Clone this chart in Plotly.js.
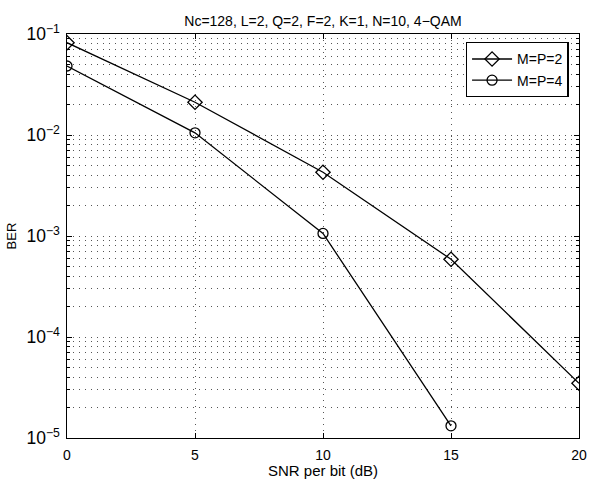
<!DOCTYPE html>
<html>
<head>
<meta charset="utf-8">
<script src="https://cdn.plot.ly/plotly-3.0.1.min.js"></script>
<style>html,body{margin:0;padding:0;background:#fff;}#chart{width:589px;height:479px;}</style>
</head>
<body>
<div id="chart"></div>
<script>
var snrA = [0, 5, 10, 15, 20];
var berA = [0.082, 0.0211, 0.00428, 0.000588, 0.0000348];
var snrB = [0, 5, 10, 15];
var berB = [0.0482, 0.0105, 0.00106, 0.0000132];
var nameA = "M=P=2";
var nameB = "M=P=4";
var xTicks = [0, 5, 10, 15, 20];
var titleText = "Nc=128, L=2, Q=2, F=2, K=1, N=10, 4\u2212QAM";

var font = "Liberation Sans, Arial, Helvetica, sans-serif";
var gridDash = "1px,5px";
var gridColor = "#555";

var traces = [
  {x: snrA, y: berA, name: nameA, type: "scatter", mode: "lines+markers",
   line: {color: "#000", width: 1.3},
   marker: {symbol: "diamond-open", size: 11, color: "#000", line: {width: 1.3, color: "#000"}}},
  {x: snrB, y: berB, name: nameB, type: "scatter", mode: "lines+markers",
   line: {color: "#000", width: 1.3},
   marker: {symbol: "circle-open", size: 10, color: "#000", line: {width: 1.3, color: "#000"}}}
];

var layout = {
  width: 589, height: 479,
  margin: {l: 67, r: 10, t: 34, b: 41, pad: 0},
  paper_bgcolor: "#fff", plot_bgcolor: "#fff",
  font: {family: font, size: 13, color: "#000"},
  title: {text: titleText, font: {family: font, size: 14, color: "#000"},
          x: 0.5, xref: "paper", xanchor: "center", y: 1, yref: "paper", yanchor: "bottom", pad: {b: 8}},
  showlegend: true,
  legend: {x: 0.98, y: 0.98, xanchor: "right", yanchor: "top",
           bgcolor: "#fff", bordercolor: "#000", borderwidth: 1.3,
           font: {family: font, size: 14, color: "#000"}, itemwidth: 40,
           tracegroupgap: 0},
  xaxis: {
    range: [0, 20], tickmode: "array", tickvals: xTicks, ticktext: xTicks.map(String),
    ticks: "inside", ticklen: 5, tickcolor: "#000", tickwidth: 1,
    showline: true, linecolor: "#000", linewidth: 1.3, mirror: "ticks",
    showgrid: true, gridcolor: gridColor, griddash: gridDash, gridwidth: 1,
    zeroline: false, ticklabelstandoff: 4,
    tickfont: {family: font, size: 14, color: "#000"},
    title: {text: "SNR per bit (dB)", font: {family: font, size: 15, color: "#000"}, standoff: 7}
  },
  yaxis: {
    type: "log", range: [-5, -1], dtick: 1, exponentformat: "power",
    ticks: "inside", ticklen: 5, tickcolor: "#000", tickwidth: 1,
    showline: true, linecolor: "#000", linewidth: 1.3, mirror: "ticks",
    showgrid: true, gridcolor: gridColor, griddash: gridDash, gridwidth: 1,
    zeroline: false, ticklabelstandoff: 3,
    minor: {dtick: "D1", ticks: "inside", ticklen: 3, tickcolor: "#000",
            showgrid: true, gridcolor: gridColor, griddash: gridDash, gridwidth: 1},
    tickfont: {family: font, size: 14, color: "#000"},
    title: {text: "BER", font: {family: font, size: 13, color: "#000"}, standoff: 7}
  }
};

Plotly.newPlot("chart", traces, layout, {displayModeBar: false, staticPlot: true});
</script>
</body>
</html>
